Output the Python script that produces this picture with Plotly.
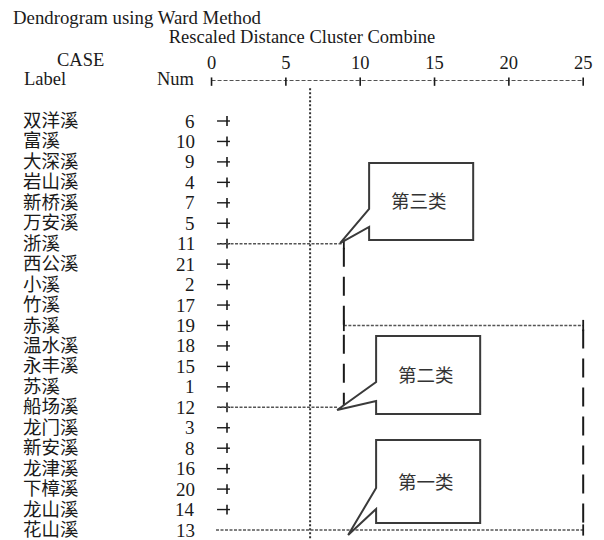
import plotly.graph_objects as go

# Cases in dendrogram order
labels = ["双洋溪", "富溪", "大深溪", "岩山溪", "新桥溪", "万安溪", "浙溪",
          "西公溪", "小溪", "竹溪", "赤溪", "温水溪", "永丰溪", "苏溪",
          "船场溪", "龙门溪", "新安溪", "龙津溪", "下樟溪", "龙山溪", "花山溪"]
nums = [6, 10, 9, 4, 7, 5, 11, 21, 2, 17, 19, 18, 15, 1, 12, 3, 8, 16, 20, 14, 13]

# Rescaled distance scale
scale_ticks = [0, 5, 10, 15, 20, 25]

# Short "-+" stub drawn on each leaf (distance units)
stub_start, stub_end, stub_tick = 0.37, 1.24, 1.04
stub_rows = list(range(20))

# Horizontal links: row, start distance, end distance
hlink_row = [6, 14, 10, 20]
hlink_from = [0.37, 0.37, 8.9, 0.30]
hlink_to = [8.9, 8.5, 25, 25]

# Joint ticks on the links
joint_row = [6, 10, 10, 20]
joint_x = [8.9, 8.9, 25, 25]

# Vertical links: distance, first row, last row
vlink_x = [8.9, 25]
vlink_top = [6, 10]
vlink_bottom = [14, 20]

# Cut level used for the three groups
cut_distance = 6.63

# Group callouts: text, box (x0, x1, row0, row1), pointer base rows, tip (x, row)
group_text = ["第三类", "第二类", "第一类"]
group_box = [(10.6, 17.6, 2.05, 5.82), (11.07, 18.07, 10.51, 14.33), (11.07, 18.07, 15.6, 19.66)]
group_base = [(4.30, 5.18), (12.76, 13.69), (17.95, 18.97)]
group_tip = [(8.65, 5.97), (8.45, 14.13), (9.19, 20.24)]

SERIF = "Liberation Serif, Times New Roman, Noto Sans CJK SC, serif"
CJK = "Noto Sans CJK SC, sans-serif"
INK = "#1a1a1a"

X_RANGE = [-14.23, 26.40]
Y_RANGE = [20.489, -2.005]
AXIS_ROW = Y_RANGE[1]
TOP_PX, PLOT_H = 80, 460


def paper_y(px):
    """Vertical pixel position in the figure -> paper coordinate."""
    return (540 - px) / PLOT_H


fig = go.Figure()

# Scale line along the top with its tick marks
fig.add_trace(go.Scatter(
    x=[scale_ticks[0], scale_ticks[-1]], y=[AXIS_ROW, AXIS_ROW], mode="lines",
    line=dict(color=INK, width=1.3, dash="4px,2px"), cliponaxis=False, hoverinfo="skip"))
fig.add_trace(go.Scatter(
    x=scale_ticks, y=[AXIS_ROW + 0.08] * len(scale_ticks), mode="markers",
    marker=dict(symbol="line-ns-open", size=6, color=INK, line=dict(color=INK, width=1.6)),
    cliponaxis=False, hoverinfo="skip"))

# Cut level (dotted)
fig.add_trace(go.Scatter(
    x=[cut_distance, cut_distance], y=[-1.6, Y_RANGE[0]], mode="lines",
    line=dict(color="#333", width=2, dash="2px,2px"), hoverinfo="skip"))

# Leaf stubs
sx, sy = [], []
for r in stub_rows:
    sx += [stub_start, stub_end, None]
    sy += [r, r, None]
fig.add_trace(go.Scatter(x=sx, y=sy, mode="lines",
                         line=dict(color=INK, width=1.4), hoverinfo="skip"))
fig.add_trace(go.Scatter(
    x=[stub_tick] * len(stub_rows), y=stub_rows, mode="markers",
    marker=dict(symbol="line-ns-open", size=7, color=INK, line=dict(color=INK, width=1.6)),
    hoverinfo="skip"))

# Horizontal links
hx, hy = [], []
for r, a, b in zip(hlink_row, hlink_from, hlink_to):
    hx += [a, b, None]
    hy += [r, r, None]
fig.add_trace(go.Scatter(x=hx, y=hy, mode="lines",
                         line=dict(color="#555", width=1.6, dash="3px,1.5px"),
                         hoverinfo="skip"))
fig.add_trace(go.Scatter(
    x=joint_x, y=joint_row, mode="markers",
    marker=dict(symbol="line-ns-open", size=8, color=INK, line=dict(color=INK, width=1.8)),
    hoverinfo="skip"))

# Vertical links
vx, vy = [], []
for x, t, b in zip(vlink_x, vlink_top, vlink_bottom):
    vx += [x, x, None]
    vy += [t + 0.2, b, None]
fig.add_trace(go.Scatter(x=vx, y=vy, mode="lines",
                         line=dict(color=INK, width=2, dash="19px,10px"),
                         hoverinfo="skip"))

annotations = []

# Case labels and numbers
for i, (lab, n) in enumerate(zip(labels, nums)):
    annotations.append(dict(x=-12.8, y=i, xref="x", yref="y", text=lab, showarrow=False,
                            xanchor="left", yanchor="middle",
                            font=dict(family=SERIF, size=18.5, color=INK)))
    annotations.append(dict(x=-0.95, y=i, xref="x", yref="y", text=str(n), showarrow=False,
                            xanchor="right", yanchor="middle",
                            font=dict(family=SERIF, size=19, color=INK)))

# Column headers
annotations.append(dict(x=-8.8, y=paper_y(60), xref="x", yref="paper", text="CASE",
                        showarrow=False, xanchor="center", yanchor="middle",
                        font=dict(family=SERIF, size=18.5, color=INK)))
annotations.append(dict(x=-12.75, y=paper_y(79), xref="x", yref="paper", text="Label",
                        showarrow=False, xanchor="left", yanchor="middle",
                        font=dict(family=SERIF, size=18.5, color=INK)))
annotations.append(dict(x=-0.95, y=paper_y(79), xref="x", yref="paper", text="Num",
                        showarrow=False, xanchor="right", yanchor="middle",
                        font=dict(family=SERIF, size=18.5, color=INK)))

# Group callouts
shapes = []
for txt, (bx0, bx1, by0, by1), (pa, pb), (tx, ty) in zip(group_text, group_box, group_base, group_tip):
    path = (f"M {bx0},{by0} L {bx1},{by0} L {bx1},{by1} L {bx0},{by1} "
            f"L {bx0},{pb} L {tx},{ty} L {bx0},{pa} Z")
    shapes.append(dict(type="path", path=path, xref="x", yref="y", layer="above",
                       line=dict(color="#3a3a3a", width=2), fillcolor="white"))
    annotations.append(dict(x=(bx0 + bx1) / 2 - 0.15, y=(by0 + by1) / 2 - 0.05,
                            xref="x", yref="y", text=txt, showarrow=False,
                            xanchor="center", yanchor="middle",
                            font=dict(family=CJK, size=18.5, color="#333")))

fig.update_layout(
    width=604, height=540,
    margin=dict(l=0, r=0, t=TOP_PX, b=0),
    paper_bgcolor="white", plot_bgcolor="white",
    showlegend=False,
    title=dict(text="Dendrogram using Ward Method", x=13 / 604, xref="container",
               xanchor="left", y=1 - 17 / 540, yref="container", yanchor="middle",
               font=dict(family=SERIF, size=18.8, color=INK)),
    xaxis=dict(range=X_RANGE, side="top", tickvals=scale_ticks,
               ticktext=[str(t) for t in scale_ticks], ticks="", showgrid=False,
               zeroline=False, showline=False, ticklabelstandoff=6,
               tickfont=dict(family=SERIF, size=18.5, color=INK),
               title=dict(text="Rescaled Distance Cluster Combine", standoff=4,
                          font=dict(family=SERIF, size=18.5, color=INK))),
    yaxis=dict(range=Y_RANGE, visible=False, showgrid=False, zeroline=False),
    shapes=shapes,
    annotations=annotations,
)

fig.write_html("out.html")
